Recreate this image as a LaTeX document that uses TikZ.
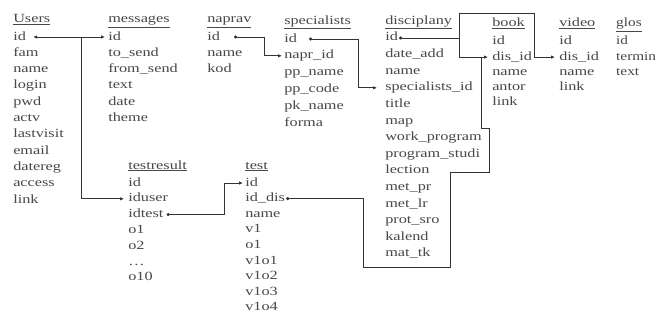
\documentclass[tikz,border=0pt]{standalone}
\usepackage{fontspec}
\setmainfont{Liberation Serif}
\usetikzlibrary{arrows.meta}
\definecolor{txt}{HTML}{484848}
\definecolor{ln}{HTML}{333333}
\tikzset{
  fld/.style={anchor=west, inner sep=0pt, text height=9pt, text depth=3pt,
    font=\fontsize{12.5}{14}\selectfont, xscale=1.3, text=txt},
  hdr/.style={fld},
  conn/.style={draw=ln, line width=0.8pt},
  dotarr/.style={conn, {Circle[length=3pt]}-{Latex[length=4pt,width=3.5pt]}},
  arr/.style={conn, -{Latex[length=4pt,width=3.5pt]}},
  dblarr/.style={conn, {Latex[length=4pt,width=3.5pt]}-{Latex[length=4pt,width=3.5pt]}},
  dotend/.style={conn, -{Circle[length=3pt]}}
}
\newcommand\dbtable[7]{%
  \node[hdr] (#1-h) at (#3,#4) {\underline{#2}};
  \foreach \f [count=\i] in {#7} {
    \node[fld] (#1-\i) at (#3,{#5+(\i-1)*#6}) {\f};
  }
}
\begin{document}
\begin{tikzpicture}[x=1pt,y=-1pt]
\useasboundingbox[fill=white] (0,0) rectangle (657,324);
\dbtable{users}{Users}{13}{20}{37}{16.3}{id,fam,name,login,pwd,actv,lastvisit,email,datereg,access,link}
\dbtable{messages}{messages}{108}{20}{37}{16.3}{id,to\_send,from\_send,text,date,theme}
\dbtable{naprav}{naprav}{207}{20}{37}{16.3}{id,name,kod}
\dbtable{specialists}{specialists}{284}{21}{39}{16.8}{id,napr\_id,pp\_name,pp\_code,pk\_name,forma}
\dbtable{disciplany}{disciplany}{385}{21}{38}{16.6}{id,date\_add,name,specialists\_id,title,map,work\_program,program\_studi,lection,met\_pr,met\_lr,prot\_sro,kalend,mat\_tk}
\dbtable{book}{book}{492}{24}{42}{15.1}{id,dis\_id,name,antor,link}
\dbtable{video}{video}{559}{24}{42}{15.1}{id,dis\_id,name,link}
\begin{scope}[every node/.append style={xscale=0.94}]
\dbtable{glos}{glos}{616}{24}{42}{15.1}{id,termin,text}
\end{scope}
\dbtable{testresult}{testresult}{128}{166}{183}{15.8}{id,iduser,idtest,o1,o2,{\ldots},o10}
\dbtable{test}{test}{245}{166}{183}{15.6}{id,id\_dis,name,v1,o1,v1o1,v1o2,v1o3,v1o4}

% Users.id <-> messages.id, branch to testresult.iduser
\draw[dblarr] ([xshift=7]users-1.east) -- ([xshift=-3]messages-1.west);
\coordinate (ub) at ([xshift=55]users-1.east);
\draw[arr] (ub) |- ([xshift=-4]testresult-2.west);

% naprav.id -> specialists.napr_id
\draw[dotarr] ([xshift=14]naprav-1.east) -| ([xshift=-20]specialists-2.west) -- ([xshift=-2]specialists-2.west);

% specialists.id -> disciplany.specialists_id
\draw[dotarr] ([xshift=12]specialists-1.east) -| ([xshift=-27]disciplany-4.west) -- ([xshift=-8]disciplany-4.west);

% disciplany.id -> video.dis_id (over the top) and book.dis_id
\coordinate (c1) at (459,13);
\draw[dotarr] ([xshift=1]disciplany-1.east) -| (c1) -| ([xshift=-25]video-2.west) -- ([xshift=-4]video-2.west);
\draw[arr] (c1) -- ([xshift=-33]book-2.west) -- ([xshift=-4]book-2.west);

% branch down around disciplany to test.id_dis
\coordinate (d1) at ([xshift=-11]book-2.west);
\coordinate (d2) at (481,128);
\coordinate (d3) at (489,128);
\coordinate (d4) at (489,172);
\coordinate (d5) at (450,172);
\coordinate (d6) at (450,267);
\coordinate (d7) at (363,267);
\draw[dotend] (d1) -- (d2) -- (d3) -- (d4) -- (d5) -- (d6) -- (d7) |- ([xshift=1]test-2.east);

% testresult.idtest -> test.id
\draw[dotarr] ([xshift=3]testresult-3.east) -| ([xshift=-21]test-1.west) -- ([xshift=-2]test-1.west);
\end{tikzpicture}
\end{document}
